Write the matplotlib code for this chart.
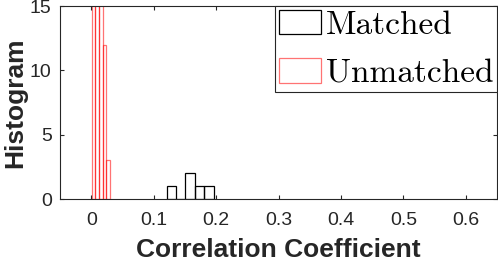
import numpy as np
import matplotlib
matplotlib.use('Agg')
import matplotlib.pyplot as plt

# histogram bins
matched_edges = [0.121, 0.136, 0.151, 0.166, 0.181, 0.196]
matched_counts = [1, 0, 2, 1, 1]
unmatched_edges = [0.001, 0.0065, 0.012, 0.0185, 0.024, 0.030]
unmatched_counts = [40, 28, 22, 12, 3]

xticks = [0, 0.1, 0.2, 0.3, 0.4, 0.5, 0.6]
yticks = [0, 5, 10, 15]

plt.rcParams['font.family'] = ['Liberation Sans', 'DejaVu Sans']

fig = plt.figure(figsize=(4.98, 2.63), dpi=100)
ax = fig.add_axes([0.1205, 0.2433, 0.8775, 0.7337])

me = np.array(matched_edges)
ue = np.array(unmatched_edges)
ax.bar(me[:-1], matched_counts, width=np.diff(me), align='edge', fill=False,
       edgecolor='black', linewidth=0.9, label='Matched')
ax.bar(ue[:-1], unmatched_counts, width=np.diff(ue), align='edge', fill=False,
       edgecolor=(1, 0, 0, 0.55), linewidth=0.9, label='Unmatched')

ax.set_xlim(-0.05, 0.65)
ax.set_ylim(0, 15)
ax.set_xticks(xticks)
ax.set_xticklabels([f'{t:g}' for t in xticks])
ax.set_yticks(yticks)

for s in ax.spines.values():
    s.set_color('#262626')
    s.set_linewidth(0.8)
ax.tick_params(direction='in', length=3, width=0.8, color='#262626',
               labelcolor='#262626', labelsize=14, top=True, right=True)
ax.tick_params(axis='x', pad=9)
ax.tick_params(axis='y', pad=6)

ax.set_xlabel('Correlation Coefficient', fontsize=19, fontweight='bold',
              color='#262626', labelpad=7)
ax.set_ylabel('Histogram', fontsize=19, fontweight='bold', color='#262626',
              labelpad=2)

leg = ax.legend(loc='upper right', prop={'family': 'cmr10', 'size': 24},
                frameon=True, fancybox=False, framealpha=1, edgecolor='#262626',
                borderaxespad=0, borderpad=0.12, handlelength=1.25,
                handleheight=0.75, handletextpad=0.15, labelspacing=0.55)
leg.get_frame().set_linewidth(0.8)

fig.savefig('out.png', dpi=100)
